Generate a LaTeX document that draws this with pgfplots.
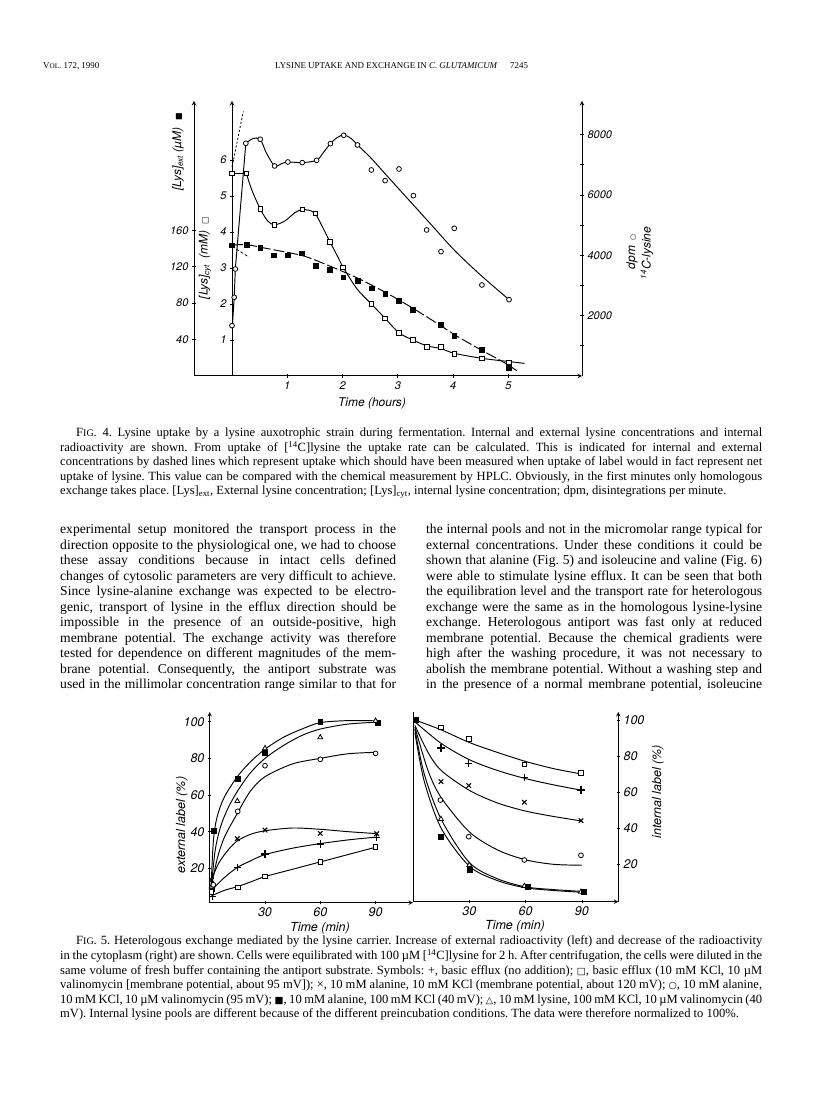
\documentclass[border=0pt]{standalone}
\usepackage{fontspec}
\setmainfont{Liberation Serif}
\setsansfont{TeX Gyre Heros}
\newfontfamily\symf{DejaVu Sans}
\usepackage{pgfplots}
\pgfplotsset{compat=1.18}
\frenchspacing

\newcommand{\bodyf}{\fontsize{13.6}{15}\selectfont}
\newcommand{\capf}{\fontsize{12.55}{14}\selectfont}
\newcommand{\headf}{\fontsize{8.9}{11}\selectfont}
\newcommand{\figf}{\sffamily\itshape\fontsize{11}{11}\selectfont}
\newcommand{\figg}{\sffamily\itshape\fontsize{12.5}{12.5}\selectfont}
\newcommand{\labf}{\sffamily\itshape\fontsize{12}{12}\selectfont}
\newcommand{\osq}{{\symf\fontsize{9.5}{9.5}\selectfont □}}
\newcommand{\fsq}{{\symf\fontsize{9.5}{9.5}\selectfont ■}}
\newcommand{\ocirc}{{\symf\fontsize{9.5}{9.5}\selectfont ○}}
\newcommand{\otri}{{\symf\fontsize{9.5}{9.5}\selectfont △}}
\newcommand{\scf}[1]{{\fontsize{10}{10}\selectfont #1}}
% justified line of body text
\newcommand{\bl}[3]{\node[anchor=base west,inner sep=0pt,font=\bodyf] at (#1,{1094-#2}) {\makebox[336pt][s]{#3}};}
% justified caption line
\newcommand{\cl}[4]{\node[anchor=base west,inner sep=0pt,font=\capf] at (#1,{1094-#2}) {\makebox[#3pt][s]{#4}};}
\newcommand{\cn}[3]{\node[anchor=base west,inner sep=0pt,font=\capf] at (#1,{1094-#2}) {#3};}

\pgfplotsset{
  every axis/.append style={
    scale only axis, clip=false,
    axis line style={-, line width=1pt},
    tick style={black, line width=0.8pt},
    tick align=outside,
    major tick length=4pt, minor tick length=4pt,
    /pgf/number format/assume math mode=true,
    /pgf/number format/1000 sep={},
    scaled ticks=false,
  },
  curve/.style={black, line width=0.95pt, smooth, no marks},
  mcirc/.style={only marks, mark=*, mark size=2.4pt, mark options={fill=white, draw=black, line width=0.8pt}},
  mosq/.style={only marks, mark=square*, mark size=2.3pt, mark options={fill=white, draw=black, line width=0.8pt}},
  mfsq/.style={only marks, mark=square*, mark size=2.4pt, mark options={fill=black, draw=black}},
  mtri/.style={only marks, mark=triangle*, mark size=2.8pt, mark options={fill=white, draw=black, line width=0.8pt}},
  mcross/.style={only marks, mark=x, mark size=3.2pt, mark options={line width=1.1pt}},
  mplus/.style={only marks, mark=+, mark size=3.6pt, mark options={line width=1.2pt}},
}

\begin{document}
\begin{tikzpicture}[x=1pt,y=1pt]
\fill[white] (0,0) rectangle (816,1094);

% ---------------- header ----------------
\node[anchor=base west,inner sep=0pt,font=\headf] at (43,{1094-69}) {V\scf{\fontsize{7.2}{8}\selectfont OL}. 172, 1990};
\node[anchor=base west,inner sep=0pt,font=\headf] at (275,{1094-69}) {LYSINE UPTAKE AND EXCHANGE IN \textit{C. GLUTAMICUM}};
\node[anchor=base west,inner sep=0pt,font=\headf] at (510,{1094-69}) {7245};

% ---------------- Fig. 4 ----------------
% external lysine (micromolar), outer left axis
\begin{axis}[at={(194pt,718pt)}, anchor=south west, width=388pt, height=275pt,
  xmin=-0.687, xmax=6.33, ymin=0, ymax=302,
  axis x line=bottom, axis y line=left,
  xtick={1,2,3,4,5}, ytick={40,80,120,160},
  ticklabel style={font=\figf}]
\addplot[curve, dash pattern=on 11pt off 3pt] coordinates {(0,143.7) (0.27,144.1) (0.69,139.3) (1.29,131.9) (1.77,120.7) (2.26,107.8) (2.74,93.0) (3.22,76.3) (3.71,57.8) (4.07,43.7) (4.52,28.1) (4.91,15.2) (5.15,5.9)};
\addplot[mfsq] coordinates {(0,143.7) (0.26,144.4) (0.51,141.1) (0.75,132.6) (1.01,132.6) (1.26,134.8) (1.51,120.7) (1.77,116.7) (2.01,108.5) (2.27,104.8) (2.52,96.3) (2.77,90.4) (3.02,83.0) (3.27,72.6) (3.78,56.7) (4.02,44.4) (4.52,28.9) (5.01,9.3)};
\end{axis}

% internal lysine (millimolar), inner left axis
\begin{axis}[at={(232pt,718pt)}, anchor=south west, width=350pt, height=275pt,
  xmin=0, xmax=6.33, ymin=0, ymax=7.639,
  axis x line=none, axis y line=left,
  ytick={1,2,3,4,5,6},
  ticklabel style={font=\figf}]
\addplot[black, line width=0.8pt, dash pattern=on 2pt off 2pt] coordinates {(0,5.80) (0.205,7.35)};
\addplot[black, line width=0.8pt, dash pattern=on 3pt off 2pt] coordinates {(0,3.597) (0.31,3.30)};
\addplot[black, line width=0.95pt] coordinates {(0,5.63) (0.26,5.63)};
\addplot[curve] coordinates {(0.26,5.63) (0.35,5.2) (0.51,4.64) (0.65,4.3) (0.77,4.2) (0.95,4.3) (1.15,4.55) (1.27,4.62) (1.4,4.6) (1.51,4.5) (1.65,4.1) (1.77,3.73) (1.9,3.35) (2.01,3.02) (2.26,2.42) (2.52,2.0) (2.77,1.6) (3.02,1.2) (3.27,1.0) (3.52,0.84) (3.78,0.76) (4.02,0.63) (4.52,0.49) (5.01,0.4) (5.29,0.35)};
\addplot[mosq] coordinates {(0,5.63) (0.26,5.63) (0.51,4.64) (0.77,4.20) (1.27,4.63) (1.51,4.52) (1.77,3.73) (2.01,3.02) (2.52,2.0) (2.77,1.60) (3.02,1.19) (3.27,1.01) (3.52,0.81) (3.78,0.81) (4.02,0.61) (4.52,0.49) (5.01,0.38)};
\end{axis}

% radioactivity (dpm), right axis
\begin{axis}[at={(232pt,718pt)}, anchor=south west, width=350pt, height=275pt,
  xmin=0, xmax=6.33, ymin=0, ymax=9115,
  axis x line=none, axis y line=right,
  ytick={2000,4000,6000,8000}, minor ytick={1000,3000,5000,7000},
  ticklabel style={font=\figf}]
\addplot[black, line width=0.95pt] coordinates {(0.01,1750) (0.04,2608) (0.06,3547) (0.25,7713)};
\addplot[curve] coordinates {(0.25,7713) (0.38,7870) (0.51,7846) (0.62,7400) (0.77,6962) (0.9,7040) (1.01,7094) (1.27,7072) (1.53,7149) (1.65,7400) (1.78,7702) (1.9,7900) (2.02,7990) (2.15,7880) (2.27,7658) (2.50,7249) (2.80,6641) (3.10,6033) (3.40,5426) (3.70,4818) (4.00,4210) (4.31,3658) (4.61,3160) (5.01,2530)};
\addplot[mcirc] coordinates {(0,1669) (0.04,2608) (0.06,3547) (0.25,7713) (0.51,7846) (0.77,6962) (1.01,7094) (1.27,7072) (1.53,7149) (1.78,7702) (2.02,7978) (2.27,7658) (2.52,6829) (2.77,6475) (3.02,6862) (3.28,5978) (3.52,4840) (3.78,4122) (4.02,4895) (4.52,3017) (5.01,2530)};
\end{axis}

% Fig. 4 axis titles
\node[rotate=90,font=\labf,inner sep=0pt] at (178,{1094-152}) {[Lys]\textsubscript{ext} (µM)\hspace{7pt}{\symf\fontsize{8}{8}\selectfont ■}};
\node[rotate=90,font=\labf,inner sep=0pt] at (205,{1094-258}) {[Lys]\textsubscript{cyt}\hspace{6pt}(mM)\hspace{6pt}{\symf\fontsize{8}{8}\selectfont □}};
\node[rotate=90,font=\labf,inner sep=0pt] at (632,{1094-252}) {dpm\hspace{5pt}{\symf\fontsize{7}{7}\selectfont ○}};
\node[rotate=90,font=\labf,inner sep=0pt] at (647,{1094-253}) {\textsuperscript{14}C-lysine};
\node[font=\labf,inner sep=0pt] at (372,{1094-403}) {Time (hours)};

% Fig. 4 caption
\cl{76}{437}{686}{F\scf{IG}. 4. Lysine uptake by a lysine auxotrophic strain during fermentation. Internal and external lysine concentrations and internal}
\cl{60}{452}{702}{radioactivity are shown. From uptake of [\textsuperscript{14}C]lysine the uptake rate can be calculated. This is indicated for internal and external}
\cl{60}{466}{702}{concentrations by dashed lines which represent uptake which should have been measured when uptake of label would in fact represent net}
\cl{60}{481}{702}{uptake of lysine. This value can be compared with the chemical measurement by HPLC. Obviously, in the first minutes only homologous}
\cn{60}{495}{exchange takes place. [Lys]\textsubscript{ext}, External lysine concentration; [Lys]\textsubscript{cyt}, internal lysine concentration; dpm, disintegrations per minute.}

% ---------------- body text ----------------
\bl{60}{534}{experimental setup monitored the transport process in the}
\bl{60}{549.5}{direction opposite to the physiological one, we had to choose}
\bl{60}{565}{these assay conditions because in intact cells defined}
\bl{60}{580.5}{changes of cytosolic parameters are very difficult to achieve.}
\bl{60}{596}{Since lysine-alanine exchange was expected to be electro-}
\bl{60}{611.5}{genic, transport of lysine in the efflux direction should be}
\bl{60}{627}{impossible in the presence of an outside-positive, high}
\bl{60}{642.5}{membrane potential. The exchange activity was therefore}
\bl{60}{658}{tested for dependence on different magnitudes of the mem-}
\bl{60}{673.5}{brane potential. Consequently, the antiport substrate was}
\bl{60}{689}{used in the millimolar concentration range similar to that for}

\bl{426}{534}{the internal pools and not in the micromolar range typical for}
\bl{426}{549.5}{external concentrations. Under these conditions it could be}
\bl{426}{565}{shown that alanine (Fig. 5) and isoleucine and valine (Fig. 6)}
\bl{426}{580.5}{were able to stimulate lysine efflux. It can be seen that both}
\bl{426}{596}{the equilibration level and the transport rate for heterologous}
\bl{426}{611.5}{exchange were the same as in the homologous lysine-lysine}
\bl{426}{627}{exchange. Heterologous antiport was fast only at reduced}
\bl{426}{642.5}{membrane potential. Because the chemical gradients were}
\bl{426}{658}{high after the washing procedure, it was not necessary to}
\bl{426}{673.5}{abolish the membrane potential. Without a washing step and}
\bl{426}{689}{in the presence of a normal membrane potential, isoleucine}

% ---------------- Fig. 5 left: external label ----------------
\begin{axis}[at={(209.7pt,191.3pt)}, anchor=south west, width=203.3pt, height=190.7pt,
  xmin=0, xmax=110.3, ymin=1.25, ymax=105.3,
  axis x line=bottom, axis y line=left,
  xtick={30,60,90}, ytick={20,40,60,80,100}, major tick length=3.5pt,
  ticklabel style={font=\figg}]
\addplot[curve] coordinates {(0.8,11) (2,35) (4,48) (8,59) (15,70) (22,78) (30,85) (40,91.5) (50,96) (60,99.5) (75,100.6) (90,100.5)};
\addplot[curve] coordinates {(0.8,9) (3,30) (6,43) (10,53) (15,62) (22,72) (30,80) (40,87) (50,92.5) (60,96) (75,98.7) (90,99.7)};
\addplot[curve] coordinates {(1,10) (4,25) (8,37) (15,50) (22,62) (30,70) (45,77) (60,80) (75,82.5) (90,83.3)};
\addplot[curve] coordinates {(1,14) (5,23) (10,30) (15,35) (22,38.5) (30,40.5) (45,42) (60,41.3) (75,40) (90,39)};
\addplot[curve] coordinates {(2,9) (8,15) (15,20.5) (22,24) (30,27.5) (45,31) (60,33.5) (75,35.5) (90,37)};
\addplot[curve] coordinates {(1,5) (8,8) (15,10) (22,12.5) (30,15.5) (45,19.5) (60,23.5) (75,27.5) (90,31.5)};
\addplot[mfsq] coordinates {(1,9) (2,40.4) (15,68.9) (30,83.1) (60,100) (91,99.5)};
\addplot[mtri] coordinates {(1,10) (15,56.7) (30,85.5) (60,91.5) (90,100.5)};
\addplot[mcirc] coordinates {(2,11) (15.2,51.1) (30,76) (60,79.5) (90,82.7)};
\addplot[mcross] coordinates {(1,13.6) (15,36.2) (30,40.9) (60,39.1) (90.6,38.9)};
\addplot[mplus] coordinates {(1.5,4.5) (15,20.5) (30,27.8) (60,33.3) (90.6,36.9)};
\addplot[mosq] coordinates {(1,7.3) (15.4,9.6) (30,15.5) (60,23.6) (90,31.6)};
\end{axis}

% ---------------- Fig. 5 right: internal label ----------------
\begin{axis}[at={(413pt,192.3pt)}, anchor=south west, width=205.3pt, height=189.7pt,
  xmin=0, xmax=109.4, ymin=-0.7, ymax=104.4,
  axis x line=bottom, axis y line=right,
  xtick={30,60,90}, ytick={20,40,60,80,100}, major tick length=3.5pt,
  ticklabel style={font=\figg}]
\draw[line width=1pt] (rel axis cs:0,0) -- (rel axis cs:0,1);
\addplot[curve] coordinates {(1,100) (15,94.5) (30,87.5) (45,82) (60,77) (75,73) (90,70)};
\addplot[curve] coordinates {(1,99) (15,87) (30,78) (45,72) (60,67.5) (75,64) (90,61)};
\addplot[curve] coordinates {(1,97) (8,82) (15,72) (30,61) (45,54) (60,49.5) (75,46.5) (90,44)};
\addplot[curve] coordinates {(1,96) (8,72) (15,57) (30,38) (45,28) (60,22.5) (75,20) (90,19.5)};
\addplot[curve] coordinates {(1,95) (6,70) (15,45) (30,21) (45,12) (60,7.5) (75,6) (90,5)};
\addplot[curve] coordinates {(1,93) (6,66) (15,40) (30,19) (45,11) (60,7) (75,5.5) (90,4.5)};
\addplot[mosq] coordinates {(14.9,95.9) (29.7,89.5) (59.3,75.4) (89.5,70.6)};
\addplot[mplus] coordinates {(14.9,84.5) (29.7,76) (59.3,68) (89.5,61.2)};
\addplot[mcross] coordinates {(14.9,65.8) (29.7,63.6) (59.3,54.4) (89.5,44.2)};
\addplot[mcirc] coordinates {(14.6,55.6) (29.7,35.3) (59.3,22.4) (89.5,25)};
\addplot[mtri] coordinates {(14.9,45.1) (30,19.6) (59.3,8) (89.5,4.8)};
\addplot[mfsq] coordinates {(1.5,100) (14.9,35.3) (30,16.9) (61,7.6) (91,4.8)};
\end{axis}

% Fig. 5 axis titles
\node[rotate=90,font=\figg,inner sep=0pt] at (182,{1094-825}) {external label (\%)};
\node[rotate=90,font=\figg,inner sep=0pt] at (658,{1094-792}) {internal label (\%)};
\node[font=\figg,inner sep=0pt] at (320,{1094-928}) {Time (min)};
\node[font=\figg,inner sep=0pt] at (515,{1094-926}) {Time (min)};

% Fig. 5 caption
\cl{76}{945}{686}{F\scf{IG}. 5. Heterologous exchange mediated by the lysine carrier. Increase of external radioactivity (left) and decrease of the radioactivity}
\cl{60}{959.6}{702}{in the cytoplasm (right) are shown. Cells were equilibrated with 100 µM [\textsuperscript{14}C]lysine for 2 h. After centrifugation, the cells were diluted in the}
\cl{60}{974.2}{702}{same volume of fresh buffer containing the antiport substrate. Symbols: +, basic efflux (no addition); \osq, basic efflux (10 mM KCl, 10 µM}
\cl{60}{988.8}{702}{valinomycin [membrane potential, about 95 mV]); ×, 10 mM alanine, 10 mM KCl (membrane potential, about 120 mV); \ocirc, 10 mM alanine,}
\cl{60}{1003.4}{702}{10 mM KCl, 10 µM valinomycin (95 mV); \fsq, 10 mM alanine, 100 mM KCl (40 mV); \otri, 10 mM lysine, 100 mM KCl, 10 µM valinomycin (40}
\cn{60}{1018}{mV). Internal lysine pools are different because of the different preincubation conditions. The data were therefore normalized to 100\%.}
\end{tikzpicture}
\end{document}
